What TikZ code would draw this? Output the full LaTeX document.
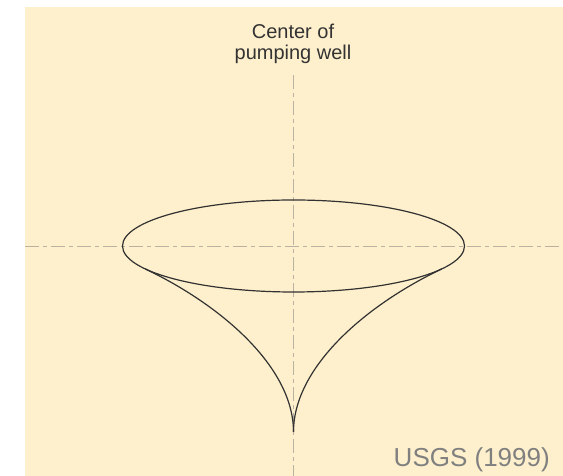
\documentclass[tikz,border=0pt]{standalone}
\usepackage{fontspec}
\setmainfont{Liberation Sans}
\definecolor{sand}{RGB}{254,240,204}
\definecolor{axisgray}{RGB}{185,178,160}
\definecolor{conegray}{RGB}{50,50,50}
\begin{document}
\begin{tikzpicture}[x=1pt,y=1pt,
  axis/.style={axisgray,line width=0.8pt,dash pattern=on 14pt off 4pt on 4pt off 4pt},
  cone/.style={conegray,line width=1.2pt}]
  \useasboundingbox (0,0) rectangle (563,476);
  \fill[sand] (25,0) rectangle (563,469);
  % axes through the well
  \coordinate (ctr) at (293.5,230);
  \coordinate (axtop) at (293.5,401);
  \coordinate (axbot) at (293.5,0);
  \coordinate (axl) at (25,230);
  \coordinate (axr) at (563,230);
  \draw[axis] (axl) -- (axr);
  \draw[axis] (axtop) -- (axbot);
  % cone of depression
  \coordinate (tip) at (293.5,44);
  \coordinate (lt) at (145.4,207);
  \coordinate (rt) at (441.6,207);
  \draw[cone] (ctr) ellipse [x radius=171, y radius=46];
  \draw[cone] (lt) .. controls (219,172) and (293.5,110) .. (tip);
  \draw[cone] (rt) .. controls (368,172) and (293.5,110) .. (tip);
  \node[font=\fontsize{20}{20.5}\selectfont,text=black!80,align=center] (lbl) at (293,432) {Center of\\pumping well};
  \node[font=\fontsize{26}{28}\selectfont,text=black!50,anchor=base east,inner sep=0pt] (src) at (550,9) {USGS (1999)};
\end{tikzpicture}
\end{document}
